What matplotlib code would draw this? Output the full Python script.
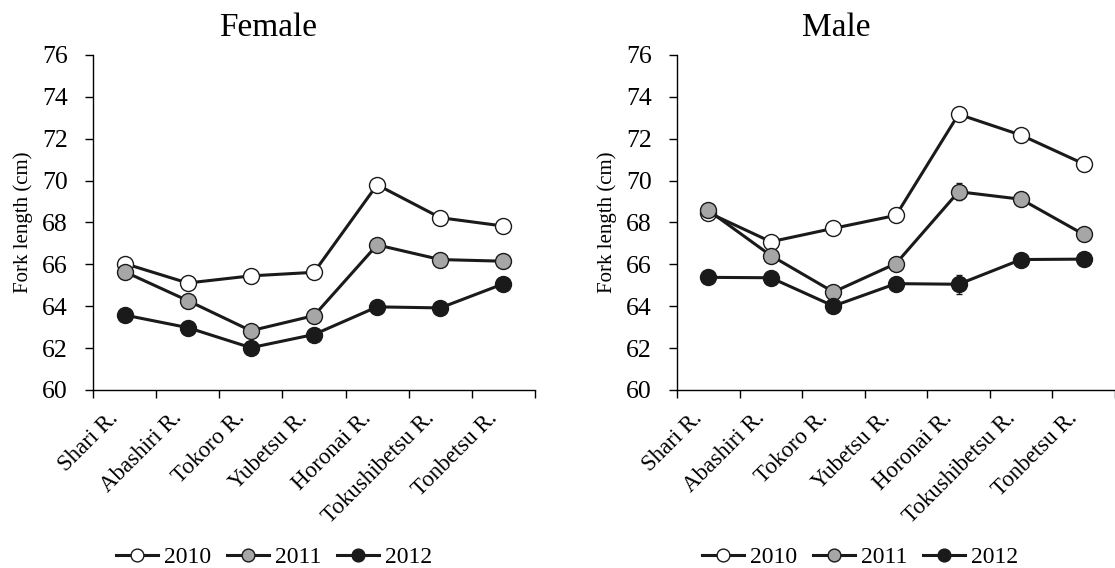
import matplotlib
matplotlib.use("Agg")
import matplotlib.pyplot as plt
from matplotlib.ticker import FixedLocator, NullFormatter
from matplotlib.transforms import ScaledTranslation

plt.rcParams['font.family'] = ['Liberation Serif', 'DejaVu Serif']

rivers = ["Shari R.", "Abashiri R.", "Tokoro R.", "Yubetsu R.",
          "Horonai R.", "Tokushibetsu R.", "Tonbetsu R."]
years = ["2010", "2011", "2012"]

# mean fork length (cm) by river
female_2010 = [66.04, 65.11, 65.45, 65.62, 69.80, 68.23, 67.83]
female_2011 = [65.65, 64.27, 62.83, 63.55, 66.93, 66.23, 66.15]
female_2012 = [63.58, 62.98, 62.02, 62.65, 63.97, 63.92, 65.07]

male_2010 = [68.47, 67.08, 67.72, 68.34, 73.17, 72.17, 70.80]
male_2011 = [68.58, 66.42, 64.68, 66.04, 69.47, 69.11, 67.43]
male_2012 = [65.38, 65.36, 64.01, 65.08, 65.05, 66.23, 66.25]

# standard errors
female_2010_se = [0.15, 0.15, 0.15, 0.15, 0.20, 0.20, 0.15]
female_2011_se = [0.15, 0.15, 0.15, 0.15, 0.30, 0.20, 0.15]
female_2012_se = [0.15, 0.15, 0.15, 0.15, 0.30, 0.20, 0.15]

male_2010_se = [0.15, 0.15, 0.15, 0.15, 0.20, 0.20, 0.15]
male_2011_se = [0.20, 0.15, 0.20, 0.30, 0.40, 0.20, 0.15]
male_2012_se = [0.15, 0.15, 0.15, 0.15, 0.45, 0.20, 0.15]

face_colors = ["white", "#a6a6a6", "#1a1a1a"]

panels = [
    ("Female", [female_2010, female_2011, female_2012],
     [female_2010_se, female_2011_se, female_2012_se]),
    ("Male", [male_2010, male_2011, male_2012],
     [male_2010_se, male_2011_se, male_2012_se]),
]

fig = plt.figure(figsize=(11.15, 5.68), dpi=100)
ax_rects = [[0.0834, 0.3134, 0.3964, 0.5898],
            [0.6072, 0.3134, 0.3928, 0.5898]]
title_x = [0.397, 0.363]
legend_x = [0.41, 0.418]

for i, (rect, (title, series, errs)) in enumerate(zip(ax_rects, panels)):
    ax = fig.add_axes(rect)
    xx = range(len(rivers))
    for lab, vals, se, fc in zip(years, series, errs, face_colors):
        ax.errorbar(xx, vals, yerr=se, color="#1a1a1a", lw=2.2,
                    marker="o", markersize=11.5, markerfacecolor=fc,
                    markeredgecolor="#1a1a1a", markeredgewidth=1.0,
                    elinewidth=1.0, capsize=2.5, capthick=1.0, label=lab)

    ax.set_xlim(-0.5, len(rivers) - 0.5)
    ax.set_ylim(60, 76)
    ax.set_yticks(range(60, 77, 2))

    # category labels at centres, tick marks at the boundaries
    ax.set_xticks(list(xx))
    ax.set_xticklabels(rivers, rotation=45, ha="right",
                       rotation_mode="anchor", fontsize=16.5)
    ax.tick_params(axis="x", which="major", length=0, pad=6)
    ax.xaxis.set_minor_locator(FixedLocator([k - 0.5 for k in range(len(rivers) + 1)]))
    ax.xaxis.set_minor_formatter(NullFormatter())
    ax.tick_params(axis="x", which="minor", length=6, width=1.0, direction="out")
    ax.tick_params(axis="y", labelsize=18.5, length=6, width=1.0,
                   direction="out", pad=12)

    # nudge rotated labels so they end just left of the category centre
    # (after tick_params, which resets the label transforms)
    shift = ScaledTranslation(-12 / 72, -6.5 / 72, fig.dpi_scale_trans)
    for t in ax.get_xticklabels():
        t.set_transform(t.get_transform() + shift)

    ax.spines["top"].set_visible(False)
    ax.spines["right"].set_visible(False)
    ax.spines["left"].set_linewidth(1.0)
    ax.spines["bottom"].set_linewidth(1.0)

    ax.set_ylabel("Fork length (cm)", fontsize=15, labelpad=7)
    ax.set_title(title, fontsize=24, x=title_x[i], pad=14)

    handles, labels = ax.get_legend_handles_labels()
    handles = [h[0] for h in handles]
    ax.legend(handles, labels, loc="center", bbox_to_anchor=(legend_x[i], -0.50),
              ncol=3, frameon=False, fontsize=17, handlelength=1.8,
              handletextpad=0.25, columnspacing=0.65, markerscale=0.8)

fig.savefig("out.png", dpi=100)
